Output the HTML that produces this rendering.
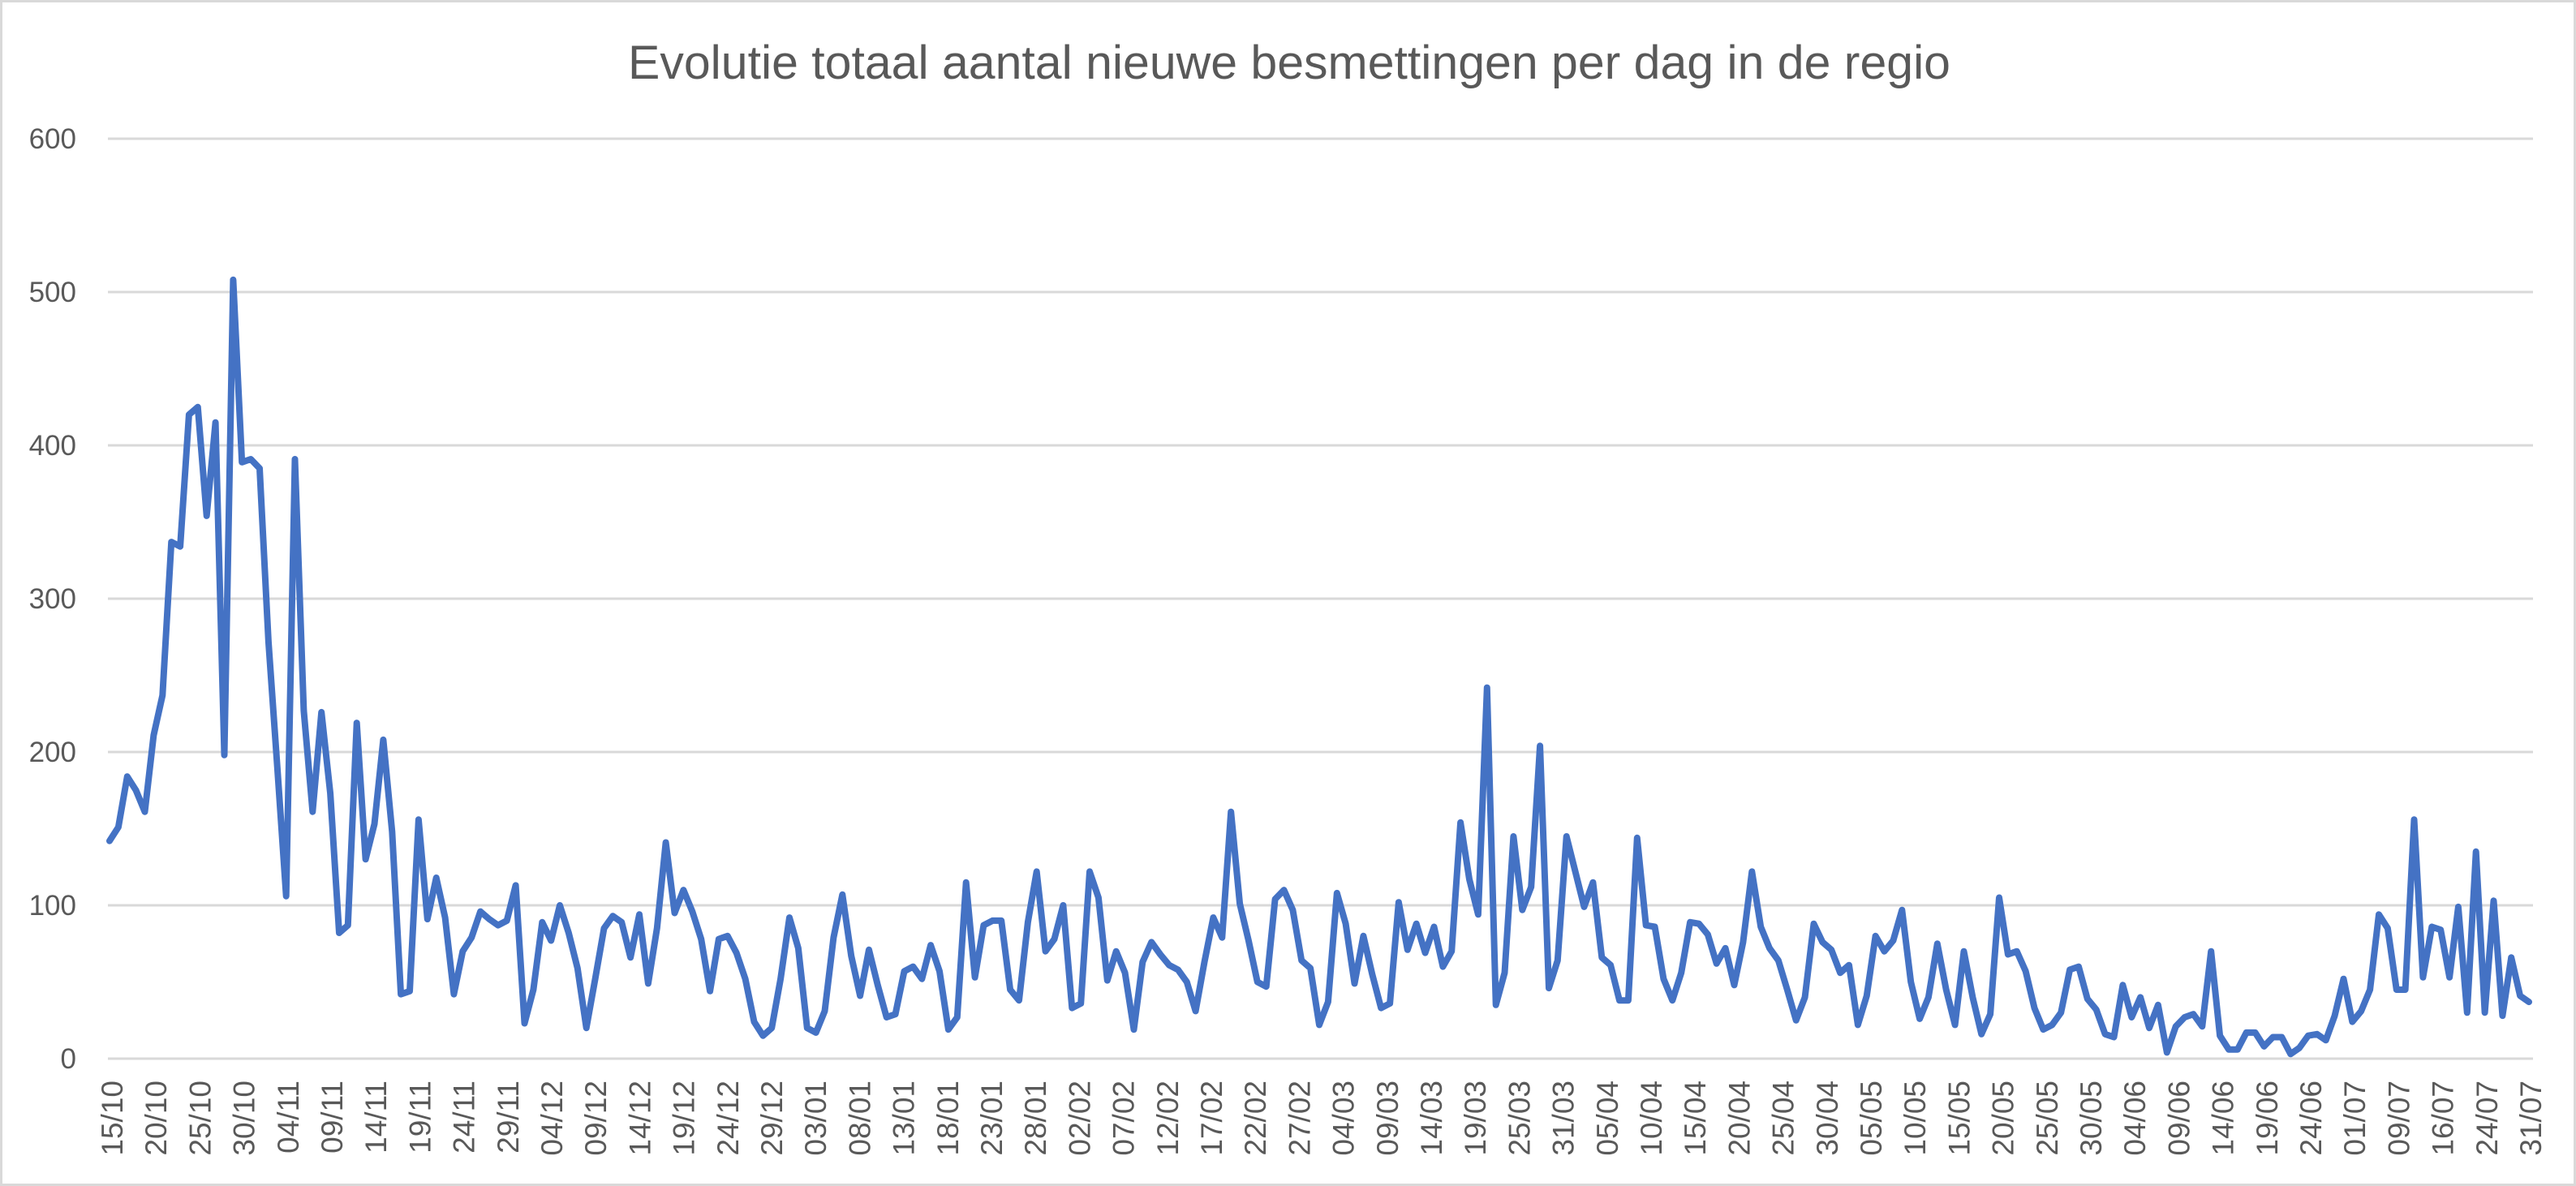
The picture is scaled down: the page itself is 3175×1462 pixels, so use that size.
<!DOCTYPE html>
<html><head><meta charset="utf-8"><style>
html,body{margin:0;padding:0;background:#fff}
svg{display:block}
text{font-family:"Liberation Sans",sans-serif;fill:#595959}
</style></head><body>
<svg id="s" width="3175" height="1462" viewBox="0 0 3175 1462" xmlns="http://www.w3.org/2000/svg">
<rect x="1.5" y="1.5" width="3172" height="1459" fill="#fff" stroke="#d9d9d9" stroke-width="3"/>
<text x="1589" y="97" font-size="58" text-anchor="middle" textLength="1630" lengthAdjust="spacingAndGlyphs">Evolutie totaal aantal nieuwe besmettingen per dag in de regio</text>
<g id="grid" stroke="#d9d9d9" stroke-width="3"></g>
<g id="yl" font-size="35" text-anchor="end"></g>
<g id="xl" font-size="37"></g>
<polyline id="ln" fill="none" stroke="#4472c4" stroke-width="8" stroke-linejoin="round" stroke-linecap="round"/>
</svg>
<script>
var NS="http://www.w3.org/2000/svg";
function el(t,a,p,txt){var e=document.createElementNS(NS,t);for(var k in a)e.setAttribute(k,a[k]);if(txt!=null)e.textContent=txt;p.appendChild(e);return e;}
var y0=1305,per=1.89;
var g=document.getElementById('grid'),yl=document.getElementById('yl'),xl=document.getElementById('xl');
for(var v=0;v<=600;v+=100){var y=y0-v*per;el('line',{x1:133,x2:3122,y1:y,y2:y},g);el('text',{x:94,y:y+12},yl,String(v));}
var d=[142,151,184,175,161,211,237,337,334,420,425,354,415,198,508,389,391,385,272,190,106,391,227,161,226,173,82,87,219,130,153,208,148,42,44,156,91,118,92,42,70,79,96,91,87,
90,113,23,45,89,77,100,82,59,20,52,85,93,89,66,94,49,85,141,95,110,96,78,44,78,80,69,52,24,15,20,52,92,72,20,17,31,79,107,67,41,71,48,27,29,57,60,52,74,57,19,27,115,
53,87,90,90,45,38,89,122,70,78,100,33,36,122,105,51,70,56,19,63,76,68,61,58,50,31,63,92,79,161,101,77,50,47,104,110,97,64,59,22,37,108,88,49,80,55,33,36,102,71,88,69,86,60,70,154,117,94,
242,35,56,145,97,112,204,46,64,145,122,99,115,66,61,38,38,144,87,86,52,38,56,89,88,81,62,72,48,76,122,86,72,64,45,25,40,88,76,71,56,61,22,41,80,70,77,97,50,26,40,75,45,22,70,40,16,29,
105,68,70,57,33,19,22,30,58,60,39,32,16,14,48,27,40,20,35,4,21,27,29,21,70,15,6,6,17,17,8,14,14,3,7,15,16,12,28,52,24,31,45,94,85,45,45,156,53,86,84,53,99,30,135,30,103,28,66,41,37];
var x0=135,x1=3117,st=(x1-x0)/(d.length-1),pts=[];
for(var i=0;i<d.length;i++)pts.push((x0+i*st).toFixed(1)+","+(y0-d[i]*per).toFixed(1));
document.getElementById('ln').setAttribute('points',pts.join(' '));
var L="15/10 20/10 25/10 30/10 04/11 09/11 14/11 19/11 24/11 29/11 04/12 09/12 14/12 19/12 24/12 29/12 03/01 08/01 13/01 18/01 23/01 28/01 02/02 07/02 12/02 17/02 22/02 27/02 04/03 09/03 14/03 19/03 25/03 31/03 05/04 10/04 15/04 20/04 25/04 30/04 05/05 10/05 15/05 20/05 25/05 30/05 04/06 09/06 14/06 19/06 24/06 01/07 09/07 16/07 24/07 31/07".split(" ");
var ls=(3119-138)/(L.length-1);
for(var j=0;j<L.length;j++){var cx=138+j*ls+13;el('text',{x:0,y:0,transform:"translate("+cx.toFixed(1)+",1332) rotate(-90)","text-anchor":"end"},xl,L[j]);}
</script>
</body></html>
